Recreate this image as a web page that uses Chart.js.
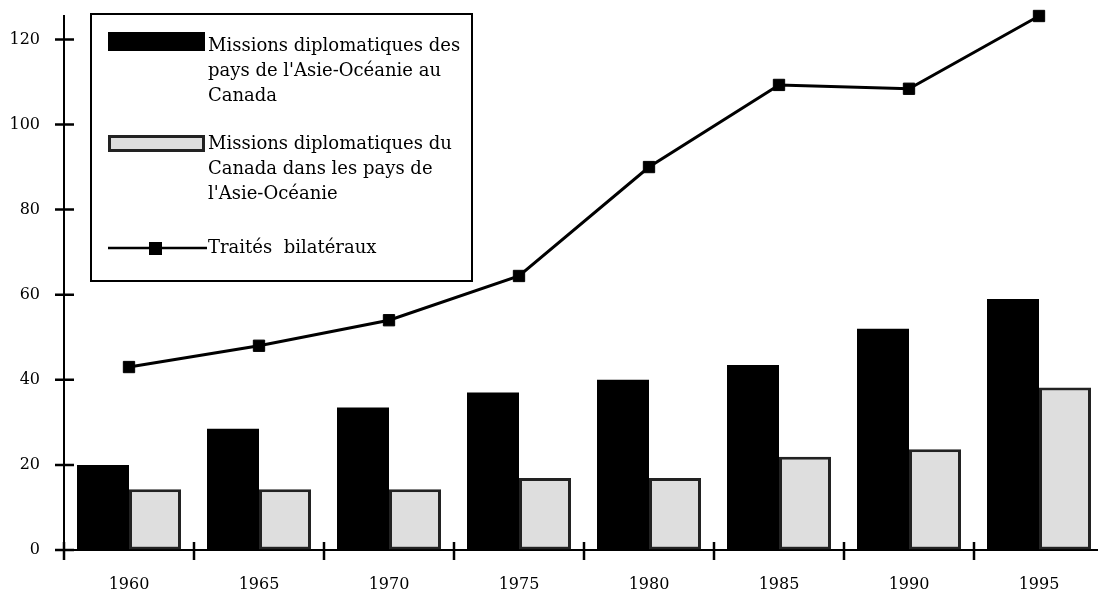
<!DOCTYPE html>
<html>
<head>
<meta charset="utf-8">
<script src="https://cdn.jsdelivr.net/npm/chart.js@4/dist/chart.umd.min.js"></script>
<style>
    html, body { margin: 0; background: #fff; overflow: hidden; }
    #wrap { width: 1106px; height: 593px; }
</style>
</head>
<body>
<div id="wrap"><canvas id="chart" width="1106" height="593"></canvas></div>
<script>
let years = ['1960', '1965', '1970', '1975', '1980', '1985', '1990', '1995'];
let missionsAsie = [20, 28.5, 33.5, 37, 40, 43.5, 52, 59];
let missionsCanada = [14.3, 14.3, 14.3, 16.9, 16.9, 21.9, 23.7, 38.2];
let traites = [43, 48, 54, 64.4, 90, 109.3, 108.4, 125.5];

let labelAsie = ['Missions diplomatiques des', "pays de l'Asie-Océanie au", 'Canada'];
let labelCanada = ['Missions diplomatiques du', 'Canada dans les pays de', "l'Asie-Océanie"];
let labelTraites = ['Traités  bilatéraux'];

let serif = '"DejaVu Serif", "Liberation Serif", serif';

// small tick marks that cross the axes
let crossTicks = {
    id: 'crossTicks',
    afterDraw(chart) {
        let ctx = chart.ctx;
        let xs = chart.scales.x;
        let ys = chart.scales.y;
        let area = chart.chartArea;
        ctx.save();
        ctx.strokeStyle = '#000';
        ctx.lineWidth = 2.5;
        ctx.beginPath();
        for (let t of ys.ticks) {
            let y = ys.getPixelForValue(t.value);
            ctx.moveTo(area.left - 9, y);
            ctx.lineTo(area.left + 10, y);
        }
        for (let i = 0; i <= years.length; i++) {
            let x = xs.getPixelForValue(i - 0.5);
            ctx.moveTo(x, area.bottom - 8);
            ctx.lineTo(x, area.bottom + 10);
        }
        ctx.stroke();
        ctx.restore();
    }
};

// boxed legend in the upper left
let boxLegend = {
    id: 'boxLegend',
    afterDraw(chart) {
        let ctx = chart.ctx;
        ctx.save();
        ctx.fillStyle = '#fff';
        ctx.fillRect(91, 14, 381, 267);
        ctx.strokeStyle = '#000';
        ctx.lineWidth = 2;
        ctx.strokeRect(91, 14, 381, 267);

        ctx.font = '18px ' + serif;
        ctx.fillStyle = '#000';
        ctx.textBaseline = 'middle';
        let writeLines = (lines, y0) => {
            lines.forEach((s, i) => ctx.fillText(s, 208, y0 + i * 25));
        };

        // black bar
        ctx.fillStyle = '#000';
        ctx.fillRect(108, 32, 97, 19);
        writeLines(labelAsie, 46);

        // grey bar
        ctx.fillStyle = '#dedede';
        ctx.fillRect(108, 135, 97, 17);
        ctx.lineWidth = 3;
        ctx.strokeStyle = '#222';
        ctx.strokeRect(109.5, 136.5, 94, 14);
        ctx.fillStyle = '#000';
        writeLines(labelCanada, 144);

        // line with marker
        ctx.lineWidth = 2.5;
        ctx.strokeStyle = '#000';
        ctx.beginPath();
        ctx.moveTo(108, 248);
        ctx.lineTo(207, 248);
        ctx.stroke();
        ctx.fillRect(149, 242, 13, 13);
        writeLines(labelTraites, 248);
        ctx.restore();
    }
};

let ctx = document.getElementById('chart').getContext('2d');
new Chart(ctx, {
    type: 'bar',
    data: {
        labels: years,
        datasets: [
            {
                type: 'line',
                label: labelTraites.join(' '),
                data: traites,
                borderColor: '#000',
                backgroundColor: '#000',
                borderWidth: 3,
                tension: 0,
                pointStyle: 'rect',
                pointRadius: 8,
                pointBorderWidth: 1,
                clip: false,
                order: 0
            },
            {
                label: labelAsie.join(' '),
                data: missionsAsie,
                backgroundColor: '#000',
                borderWidth: 0,
                categoryPercentage: 0.8,
                barPercentage: 1.0,
                order: 1
            },
            {
                label: labelCanada.join(' '),
                data: missionsCanada,
                backgroundColor: '#dedede',
                borderColor: '#222',
                borderWidth: 3,
                borderSkipped: false,
                categoryPercentage: 0.8,
                barPercentage: 1.0,
                order: 1
            }
        ]
    },
    options: {
        responsive: false,
        animation: false,
        layout: { autoPadding: false, padding: { top: 16, right: 2, left: 0, bottom: 0 } },
        plugins: {
            legend: { display: false },
            tooltip: { enabled: false }
        },
        scales: {
            x: {
                grid: { display: true, drawOnChartArea: false, drawTicks: false },
                border: { display: true, color: '#000', width: 2 },
                ticks: {
                    color: '#000',
                    padding: 25,
                    maxRotation: 0,
                    font: { family: serif, size: 16 }
                },
                afterFit(scale) {
                    scale.height = 43;
                    scale.paddingLeft = 0;
                    scale.paddingRight = 0;
                }
            },
            y: {
                min: 0,
                max: 125.5,
                grid: { display: true, drawOnChartArea: false, drawTicks: false },
                border: { display: true, color: '#000', width: 2 },
                ticks: {
                    stepSize: 20,
                    includeBounds: false,
                    color: '#000',
                    padding: 24,
                    font: { family: serif, size: 16 }
                },
                afterFit(scale) {
                    scale.width = 64;
                    scale.paddingTop = 0;
                    scale.paddingBottom = 0;
                }
            }
        }
    },
    plugins: [crossTicks, boxLegend]
});
</script>
</body>
</html>
